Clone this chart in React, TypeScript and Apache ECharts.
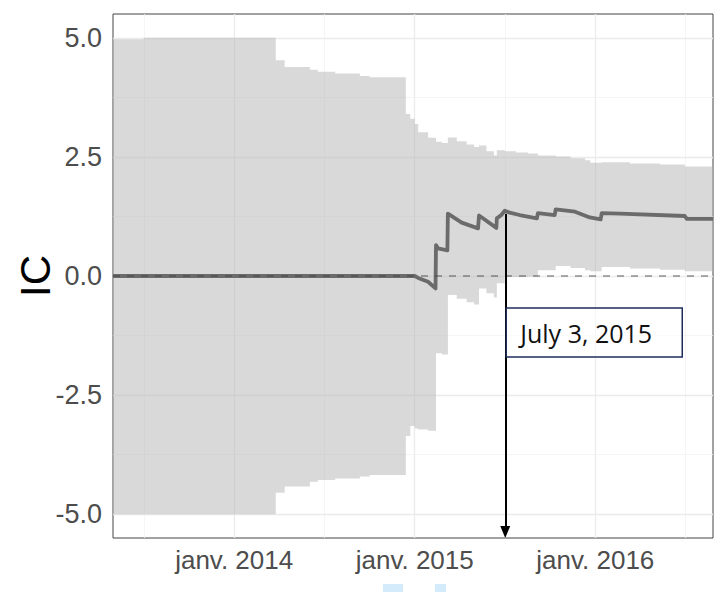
import React, { useEffect, useRef } from 'react';
import * as echarts from 'echarts';

// x values are days since 2014-01-01
const X_MIN = -245;
const X_MAX = 968;
const Y_MIN = -5.5;
const Y_MAX = 5.5;

const xTickDays = [0, 365, 730];
const xTickLabels = ['janv. 2014', 'janv. 2015', 'janv. 2016'];
const xMinorDays = [-182.5, 182.5, 547.5, 912.5];
const yTicks = [-5, -2.5, 0, 2.5, 5];
const yMinor = [-3.75, -1.25, 1.25, 3.75];

// Confidence band (step function, value held until next day)
const ribbonDays = [-245, -183, 84, 102, 153, 169, 204, 254, 274, 347, 356, 365, 372, 392, 408, 420, 432, 450, 470, 485, 495, 510, 525, 531, 547, 570, 594, 614, 650, 680, 709, 720, 743, 800, 861, 911, 968];
const ribbonUpper = [4.97, 5.0, 4.53, 4.39, 4.33, 4.29, 4.25, 4.2, 4.17, 3.4, 3.3, 3.19, 3.02, 2.9, 2.82, 2.79, 2.91, 2.83, 2.76, 2.71, 2.74, 2.62, 2.53, 2.64, 2.62, 2.59, 2.57, 2.53, 2.51, 2.47, 2.43, 2.38, 2.39, 2.36, 2.34, 2.3, 2.3];
const ribbonLower = [-5.0, -5.0, -4.55, -4.42, -4.32, -4.28, -4.25, -4.21, -4.18, -3.36, -3.15, -3.2, -3.22, -3.25, -1.62, -1.65, -0.4, -0.48, -0.55, -0.6, -0.26, -0.36, -0.45, -0.15, -0.02, -0.02, -0.01, 0.12, 0.21, 0.17, 0.12, 0.1, 0.19, 0.16, 0.13, 0.1, 0.09];

// Estimated IC line
const lineDays = [-245, 365, 372, 392, 407, 408, 412, 431, 432, 460, 493, 495, 530, 531, 540, 547, 557, 577, 612, 614, 648, 650, 689, 719, 741, 743, 780, 911, 915, 968];
const lineValues = [0, 0, -0.04, -0.12, -0.26, 0.65, 0.58, 0.54, 1.31, 1.12, 1.0, 1.27, 1.01, 1.21, 1.28, 1.37, 1.33, 1.28, 1.21, 1.32, 1.28, 1.4, 1.35, 1.23, 1.19, 1.32, 1.31, 1.26, 1.2, 1.2];

const annotationDay = 548; // July 3, 2015
const annotationText = 'July 3, 2015';
const annotationStartValue = 1.3;
const annotationEndValue = -5.374;
const annotationBoxTopValue = -0.67;

const TICK_FONT = 'Liberation Sans';

export default function App() {
  const ref = useRef<HTMLDivElement>(null);

  useEffect(() => {
    document.body.style.margin = '0';
    const chart = echarts.init(ref.current!, null, { renderer: 'svg' });

    const major = { color: '#ebebeb', width: 1.3, type: 'solid' };
    const minor = { color: '#f2f2f2', width: 0.8, type: 'solid' };
    const gridLineData: any[] = [
      ...xTickDays.map((d) => ({ xAxis: d, lineStyle: major })),
      ...xMinorDays.map((d) => ({ xAxis: d, lineStyle: minor })),
      ...yTicks.map((v) => ({ yAxis: v, lineStyle: major })),
      ...yMinor.map((v) => ({ yAxis: v, lineStyle: minor })),
    ];

    const option: any = {
      animation: false,
      grid: {
        left: 113,
        right: 7,
        top: 14,
        bottom: 54,
        show: true,
        borderColor: '#444',
        borderWidth: 1,
        backgroundColor: 'transparent',
        outerBoundsMode: 'none',
      },
      xAxis: {
        type: 'value',
        min: X_MIN,
        max: X_MAX,
        axisLine: { show: false },
        splitLine: { show: false },
        axisTick: {
          show: true,
          customValues: xTickDays,
          length: 5,
          lineStyle: { color: '#555', width: 1 },
        },
        axisLabel: {
          customValues: xTickDays,
          formatter: (v: number) => {
            const i = xTickDays.indexOf(v);
            return i >= 0 ? xTickLabels[i] : '';
          },
          fontFamily: TICK_FONT,
          fontSize: 26,
          color: '#4d4d4d',
          margin: 9,
        },
      },
      yAxis: {
        type: 'value',
        min: Y_MIN,
        max: Y_MAX,
        name: 'IC',
        nameLocation: 'middle',
        nameGap: 57,
        nameMoveOverlap: false,
        nameTextStyle: { fontFamily: TICK_FONT, fontSize: 42, color: '#000' },
        axisLine: { show: false },
        splitLine: { show: false },
        axisTick: {
          show: true,
          customValues: yTicks,
          length: 5,
          lineStyle: { color: '#555', width: 1 },
        },
        axisLabel: {
          customValues: yTicks,
          formatter: (v: number) => (Math.abs(v) < 1e-9 ? '0.0' : v.toFixed(1)),
          fontFamily: TICK_FONT,
          fontSize: 27,
          color: '#4d4d4d',
          margin: 11,
        },
      },
      series: [
        {
          type: 'line',
          name: 'grid',
          data: [[X_MIN, 0]],
          showSymbol: false,
          lineStyle: { width: 0, opacity: 0 },
          silent: true,
          z: 1,
          markLine: {
            silent: true,
            symbol: 'none',
            z: 1,
            label: { show: false },
            data: gridLineData,
          },
        },
        {
          type: 'custom',
          name: 'band',
          z: 2,
          silent: true,
          data: ribbonDays.map((d, i) => [d, ribbonLower[i], ribbonUpper[i]]),
          encode: { x: 0, y: [1, 2] },
          renderItem: (params: any, api: any) => {
            if (params.dataIndex !== 0) return null;
            const n = ribbonDays.length;
            const pts: number[][] = [];
            for (let i = 0; i < n - 1; i++) {
              pts.push(api.coord([ribbonDays[i], ribbonUpper[i]]));
              pts.push(api.coord([ribbonDays[i + 1], ribbonUpper[i]]));
            }
            for (let i = n - 2; i >= 0; i--) {
              pts.push(api.coord([ribbonDays[i + 1], ribbonLower[i]]));
              pts.push(api.coord([ribbonDays[i], ribbonLower[i]]));
            }
            return {
              type: 'polygon',
              shape: { points: pts },
              style: { fill: 'rgba(179,179,179,0.5)', stroke: 'none' },
            };
          },
        },
        {
          type: 'line',
          name: 'IC',
          z: 3,
          data: lineDays.map((d, i) => [d, lineValues[i]]),
          showSymbol: false,
          lineStyle: { color: '#6b6b6b', width: 3.8, join: 'round' },
          markLine: {
            silent: true,
            symbol: 'none',
            z: 4,
            label: { show: false },
            lineStyle: { color: 'rgba(60,60,60,0.55)', width: 1.5, type: [7, 7] },
            data: [{ yAxis: 0 }],
          },
        },
        {
          type: 'line',
          name: 'annotation',
          z: 6,
          data: [[annotationDay, annotationStartValue]],
          showSymbol: false,
          lineStyle: { width: 0, opacity: 0 },
          markLine: {
            silent: true,
            z: 6,
            symbol: ['none', 'triangle'],
            symbolSize: [10, 12],
            label: { show: false },
            lineStyle: { color: '#000', width: 2, type: 'solid' },
            data: [[{ coord: [annotationDay, annotationStartValue] }, { coord: [annotationDay, annotationEndValue] }]],
          },
        },
      ],
    };

    chart.setOption(option);

    const p = chart.convertToPixel({ gridIndex: 0 } as any, [annotationDay, annotationBoxTopValue]) as number[];
    const boxX = p[0] + 1;
    const boxY = p[1];
    chart.setOption({
      graphic: [
        {
          type: 'rect',
          z: 10,
          shape: { x: boxX, y: boxY, width: 176, height: 49 },
          style: { fill: 'rgba(255,255,255,0.6)', stroke: '#1f2d5a', lineWidth: 1.5 },
        },
        {
          type: 'text',
          z: 11,
          x: boxX + 14,
          y: boxY + 25,
          style: {
            text: annotationText,
            fontFamily: 'Open Sans',
            fontSize: 25,
            fill: '#111',
            verticalAlign: 'middle',
            textAlign: 'left',
          },
        },
        { type: 'rect', z: 10, shape: { x: 383, y: 584, width: 20, height: 8 }, style: { fill: '#d4ebfb' } },
        { type: 'rect', z: 10, shape: { x: 435, y: 584, width: 11, height: 8 }, style: { fill: '#d4ebfb' } },
      ],
    });

    return () => chart.dispose();
  }, []);

  return <div ref={ref} style={{ width: 720, height: 592 }} />;
}
